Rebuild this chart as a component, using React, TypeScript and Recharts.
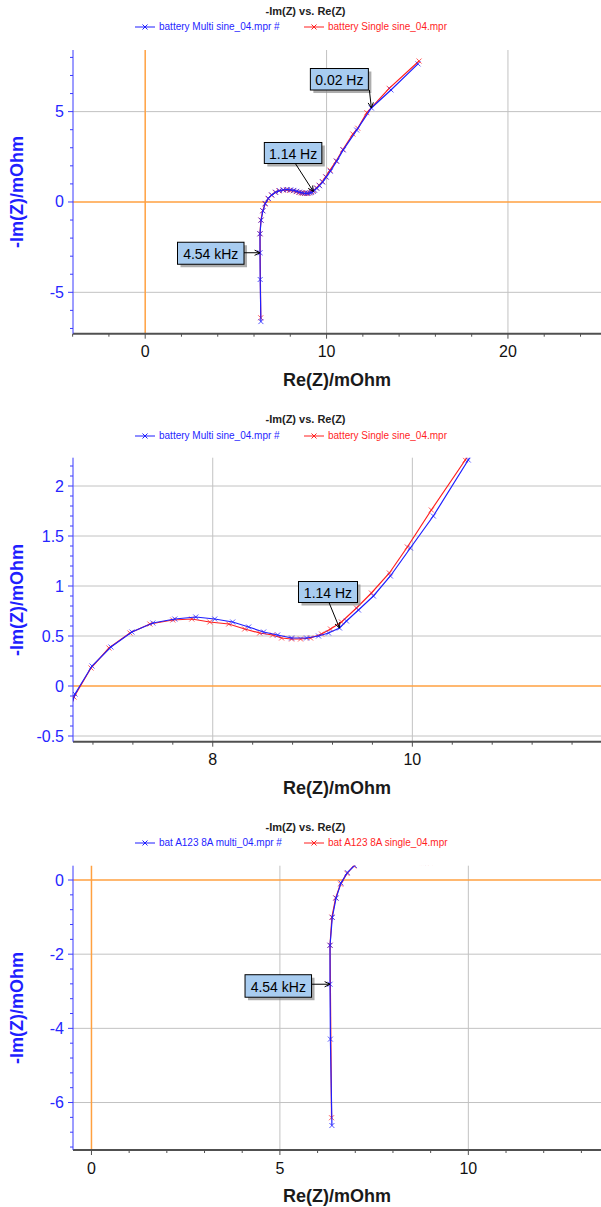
import React from 'react';
import { ScatterChart, Scatter, XAxis, YAxis, ReferenceLine, ReferenceDot } from 'recharts';

// Nyquist data (mOhm)
const multiRe = [6.38, 6.34, 6.33, 6.33, 6.39, 6.49, 6.62, 6.79, 6.98, 7.19, 7.4, 7.62, 7.83, 8.02, 8.2, 8.36, 8.51, 8.65, 8.79, 8.94, 9.06, 9.16, 9.27, 9.34, 9.46, 9.61, 9.78, 9.98, 10.21, 10.56, 10.92, 11.66, 12.47, 13.55, 15.04];
const multiIm = [-6.62, -4.29, -2.81, -1.76, -1.01, -0.49, -0.08, 0.2, 0.39, 0.54, 0.63, 0.67, 0.69, 0.67, 0.64, 0.59, 0.54, 0.51, 0.48, 0.48, 0.5, 0.53, 0.58, 0.65, 0.76, 0.9, 1.1, 1.38, 1.7, 2.26, 2.88, 3.98, 5.2, 6.2, 7.64];
const singleRe = [6.37, 6.33, 6.38, 6.48, 6.61, 6.78, 6.96, 7.17, 7.37, 7.6, 7.79, 7.97, 8.16, 8.32, 8.47, 8.6, 8.69, 8.79, 8.88, 8.98, 9.09, 9.18, 9.29, 9.44, 9.59, 9.77, 9.95, 10.19, 10.53, 10.9, 11.45, 11.72, 12.22, 13.45, 15.1];
const singleIm = [-6.41, -1.76, -1.0, -0.48, -0.11, 0.18, 0.38, 0.53, 0.62, 0.66, 0.67, 0.64, 0.62, 0.57, 0.53, 0.51, 0.48, 0.47, 0.47, 0.48, 0.52, 0.57, 0.64, 0.78, 0.93, 1.13, 1.39, 1.76, 2.26, 2.9, 3.76, 4.08, 4.94, 6.29, 7.8];

// frequency annotations
const freqLabels = ['0.02 Hz', '1.14 Hz', '4.54 kHz'];
const freqRe = [12.47, 9.27, 6.33];
const freqIm = [5.2, 0.58, -2.81];

// axis ticks (all) and the ones that get a label
const fullXTicks = [-4, -2, 0, 2, 4, 6, 8, 10, 12, 14, 16, 18, 20, 22, 24];
const fullXLabels = [0, 10, 20];
const fullYTicks = [-7, -6, -5, -4, -3, -2, -1, 0, 1, 2, 3, 4, 5, 6, 7, 8];
const fullYLabels = [-5, 0, 5];
const zoomXTicks = [6.8, 7.2, 7.6, 8, 8.4, 8.8, 9.2, 9.6, 10, 10.4, 10.8, 11.2, 11.6];
const zoomXLabels = [8, 10];
const zoomYTicks = [-0.5, -0.4, -0.3, -0.2, -0.1, 0, 0.1, 0.2, 0.3, 0.4, 0.5, 0.6, 0.7, 0.8, 0.9, 1, 1.1, 1.2, 1.3, 1.4, 1.5, 1.6, 1.7, 1.8, 1.9, 2, 2.1, 2.2];
const zoomYLabels = [-0.5, 0, 0.5, 1, 1.5, 2];
const hfXTicks = [0, 1, 2, 3, 4, 5, 6, 7, 8, 9, 10, 11, 12, 13];
const hfXLabels = [0, 5, 10];
const hfYTicks = [-7.2, -6.8, -6.4, -6, -5.6, -5.2, -4.8, -4.4, -4, -3.6, -3.2, -2.8, -2.4, -2, -1.6, -1.2, -0.8, -0.4, 0];
const hfYLabels = [-6, -4, -2, 0];

const multiData = multiRe.map((re, i) => ({ re, im: multiIm[i] }));
const singleData = singleRe.map((re, i) => ({ re, im: singleIm[i] }));

const BLUE = '#1f1fff';
const RED = '#ff1f1f';
const ORANGE = '#ffa040';
const GRID = '#c2c2c2';
const FONT = 'Arial, "Liberation Sans", sans-serif';

const xMark = (color: string) => (p: any) => {
    const { cx, cy } = p;
    if (cx == null || cy == null) return <g />;
    const s = 2.5;
    return (
        <path
            d={`M${cx - s},${cy - s}L${cx + s},${cy + s}M${cx - s},${cy + s}L${cx + s},${cy - s}`}
            stroke={color}
            strokeOpacity={0.75}
            strokeWidth={1}
            fill="none"
        />
    );
};

const xTick = (labels: number[]) => (p: any) => {
    const { x, y, payload } = p;
    const major = labels.includes(payload.value);
    return (
        <g>
            <line x1={x} x2={x} y1={y} y2={y + (major ? 5 : 3)} stroke="#505050" />
            {major && (
                <text x={x} y={y + 18} textAnchor="middle" dominantBaseline="central" fontSize={16} fill="#111" fontFamily={FONT}>
                    {String(payload.value)}
                </text>
            )}
        </g>
    );
};

const yTick = (labels: number[]) => (p: any) => {
    const { x, y, payload } = p;
    const major = labels.includes(payload.value);
    return (
        <g>
            <line x1={x - (major ? 5 : 3)} x2={x} y1={y} y2={y} stroke="#3a3aff" />
            {major && (
                <text x={x - 9} y={y} textAnchor="end" dominantBaseline="central" fontSize={16} fill="#2626ff" fontFamily={FONT}>
                    {String(payload.value)}
                </text>
            )}
        </g>
    );
};

interface CalloutBox {
    idx: number;
    dx: number;
    dy: number;
    w: number;
    h: number;
    tx: number;
    ty: number;
}

const callout = (c: CalloutBox) => (p: any) => {
    const { cx, cy } = p;
    if (cx == null || cy == null) return <g />;
    const bx = cx + c.dx;
    const by = cy + c.dy;
    const sx = cx + c.tx;
    const sy = cy + c.ty;
    const ang = Math.atan2(cy - sy, cx - sx);
    const hl = 6;
    const a1 = ang + Math.PI - 0.45;
    const a2 = ang + Math.PI + 0.45;
    return (
        <g>
            <rect x={bx + 3} y={by + 3} width={c.w} height={c.h} fill="#8a8a8a" opacity={0.7} />
            <rect x={bx} y={by} width={c.w} height={c.h} fill="#a8ccf0" stroke="#000" strokeWidth={1} />
            <text x={bx + c.w / 2} y={by + c.h / 2 + 1} textAnchor="middle" dominantBaseline="central" fontSize={14} fill="#000" fontFamily={FONT}>
                {freqLabels[c.idx]}
            </text>
            <line x1={sx} y1={sy} x2={cx} y2={cy} stroke="#000" strokeWidth={1} />
            <line x1={cx} y1={cy} x2={cx + hl * Math.cos(a1)} y2={cy + hl * Math.sin(a1)} stroke="#000" />
            <line x1={cx} y1={cy} x2={cx + hl * Math.cos(a2)} y2={cy + hl * Math.sin(a2)} stroke="#000" />
        </g>
    );
};

interface PanelProps {
    top: number;
    height: number;
    plotTop: number;
    plotBottom: number;
    titleY: number;
    legendY: number;
    legend: [string, string];
    xDomain: [number, number];
    yDomain: [number, number];
    xTicks: number[];
    xLabels: number[];
    yTicks: number[];
    yLabels: number[];
    vGrid: number[];
    hGrid: number[];
    zeroX: boolean;
    callouts: CalloutBox[];
}

function LegendIcon({ color }: { color: string }) {
    return (
        <svg width={20} height={10} style={{ display: 'block' }}>
            <line x1={0} x2={20} y1={5} y2={5} stroke={color} />
            <path d="M7.5,2.5L12.5,7.5M7.5,7.5L12.5,2.5" stroke={color} />
        </svg>
    );
}

function Panel(props: PanelProps) {
    const { top, height, plotTop, plotBottom } = props;
    const xAxisH = 50;
    const plotMid = (plotTop + plotBottom) / 2;
    return (
        <div style={{ position: 'absolute', left: 0, top, width: 601, height }}>
            <div
                style={{
                    position: 'absolute',
                    left: 0,
                    width: 611,
                    top: props.titleY - 7,
                    height: 14,
                    lineHeight: '14px',
                    textAlign: 'center',
                    fontSize: 11,
                    fontWeight: 'bold',
                    color: '#222',
                }}
            >
                -Im(Z) vs. Re(Z)
            </div>
            <div style={{ position: 'absolute', left: 135, top: props.legendY - 5, display: 'flex', alignItems: 'center' }}>
                <LegendIcon color={BLUE} />
                <span style={{ marginLeft: 4, fontSize: 10, lineHeight: '10px', color: BLUE, width: 145, whiteSpace: 'nowrap' }}>
                    {props.legend[0]}
                </span>
                <LegendIcon color={RED} />
                <span style={{ marginLeft: 4, fontSize: 10, lineHeight: '10px', color: RED, whiteSpace: 'nowrap' }}>
                    {props.legend[1]}
                </span>
            </div>
            <ScatterChart
                width={601}
                height={height}
                margin={{ top: plotTop, right: 0, left: 0, bottom: height - plotBottom - xAxisH }}
            >
                <XAxis
                    type="number"
                    dataKey="re"
                    domain={props.xDomain}
                    allowDataOverflow
                    ticks={props.xTicks}
                    interval={0}
                    tickSize={0}
                    tickMargin={0}
                    tickLine={false}
                    tick={xTick(props.xLabels)}
                    axisLine={{ stroke: '#505050', strokeWidth: 2 }}
                    height={xAxisH}
                />
                <XAxis
                    xAxisId="top"
                    orientation="top"
                    type="number"
                    domain={props.xDomain}
                    allowDataOverflow
                    height={0}
                    tick={false}
                    tickLine={false}
                    axisLine={{ stroke: '#5a5a5a', strokeWidth: 2 }}
                />
                <YAxis
                    type="number"
                    dataKey="im"
                    domain={props.yDomain}
                    allowDataOverflow
                    ticks={props.yTicks}
                    interval={0}
                    tickSize={0}
                    tickMargin={0}
                    tickLine={false}
                    tick={yTick(props.yLabels)}
                    axisLine={{ stroke: '#3a3aff' }}
                    width={73}
                />
                {props.vGrid.map(v => (
                    <ReferenceLine key={`v${v}`} x={v} stroke={GRID} />
                ))}
                {props.hGrid.map(v => (
                    <ReferenceLine key={`h${v}`} y={v} stroke={GRID} />
                ))}
                {props.zeroX && <ReferenceLine x={0} stroke={ORANGE} strokeWidth={1.5} />}
                <ReferenceLine y={0} stroke={ORANGE} strokeWidth={1.5} />
                <Scatter
                    data={singleData}
                    fill={RED}
                    line={{ stroke: RED, strokeWidth: 1.2 }}
                    lineType="joint"
                    shape={xMark(RED)}
                    isAnimationActive={false}
                />
                <Scatter
                    data={multiData}
                    fill={BLUE}
                    line={{ stroke: BLUE, strokeWidth: 1.2 }}
                    lineType="joint"
                    shape={xMark(BLUE)}
                    isAnimationActive={false}
                />
                {props.callouts.map(c => (
                    <ReferenceDot key={c.idx} x={freqRe[c.idx]} y={freqIm[c.idx]} r={0} shape={callout(c)} />
                ))}
            </ScatterChart>
            <div
                style={{
                    position: 'absolute',
                    left: 337,
                    top: plotBottom + 46,
                    transform: 'translate(-50%, -50%)',
                    fontSize: 18,
                    fontWeight: 'bold',
                    color: '#1a1a1a',
                    whiteSpace: 'nowrap',
                }}
            >
                Re(Z)/mOhm
            </div>
            <div
                style={{
                    position: 'absolute',
                    left: 17,
                    top: plotMid,
                    transform: 'translate(-50%, -50%) rotate(-90deg)',
                    fontSize: 18,
                    fontWeight: 'bold',
                    color: '#1f1fff',
                    whiteSpace: 'nowrap',
                }}
            >
                -Im(Z)/mOhm
            </div>
        </div>
    );
}

export default function App() {
    return (
        <div
            style={{
                position: 'absolute',
                left: 0,
                top: 0,
                width: 601,
                height: 1207,
                overflow: 'hidden',
                background: '#fff',
                fontFamily: FONT,
            }}
        >
            <Panel
                top={0}
                height={400}
                plotTop={50}
                plotBottom={333.7}
                titleY={11}
                legendY={27}
                legend={['battery Multi sine_04.mpr #', 'battery Single sine_04.mpr']}
                xDomain={[-3.98, 25.13]}
                yDomain={[-7.29, 8.41]}
                xTicks={fullXTicks}
                xLabels={fullXLabels}
                yTicks={fullYTicks}
                yLabels={fullYLabels}
                vGrid={[10, 20]}
                hGrid={[-5, 5]}
                zeroX
                callouts={[
                    { idx: 0, dx: -61, dy: -39.5, w: 58, h: 21.5, tx: -2, ty: -18 },
                    { idx: 1, dx: -49, dy: -49, w: 57.5, h: 21, tx: -18, ty: -28 },
                    { idx: 2, dx: -82.5, dy: -10.5, w: 66.5, h: 22, tx: -16, ty: 0 },
                ]}
            />
            <Panel
                top={400}
                height={400}
                plotTop={57.7}
                plotBottom={341.7}
                titleY={19}
                legendY={36}
                legend={['battery Multi sine_04.mpr #', 'battery Single sine_04.mpr']}
                xDomain={[6.6, 11.89]}
                yDomain={[-0.557, 2.283]}
                xTicks={zoomXTicks}
                xLabels={zoomXLabels}
                yTicks={zoomYTicks}
                yLabels={zoomYLabels}
                vGrid={[8, 10]}
                hGrid={[-0.5, 0.5, 1, 1.5, 2]}
                zeroX={false}
                callouts={[{ idx: 1, dx: -41, dy: -46.5, w: 59, h: 21, tx: -10.5, ty: -25.5 }]}
            />
            <Panel
                top={810}
                height={397}
                plotTop={55.7}
                plotBottom={340}
                titleY={17}
                legendY={33}
                legend={['bat A123 8A multi_04.mpr #', 'bat A123 8A single_04.mpr']}
                xDomain={[-0.49, 13.52]}
                yDomain={[-7.28, 0.386]}
                xTicks={hfXTicks}
                xLabels={hfXLabels}
                yTicks={hfYTicks}
                yLabels={hfYLabels}
                vGrid={[5, 10]}
                hGrid={[-2, -4, -6]}
                zeroX
                callouts={[{ idx: 2, dx: -85, dy: -9.5, w: 66.5, h: 22.5, tx: -18, ty: 0 }]}
            />
        </div>
    );
}
